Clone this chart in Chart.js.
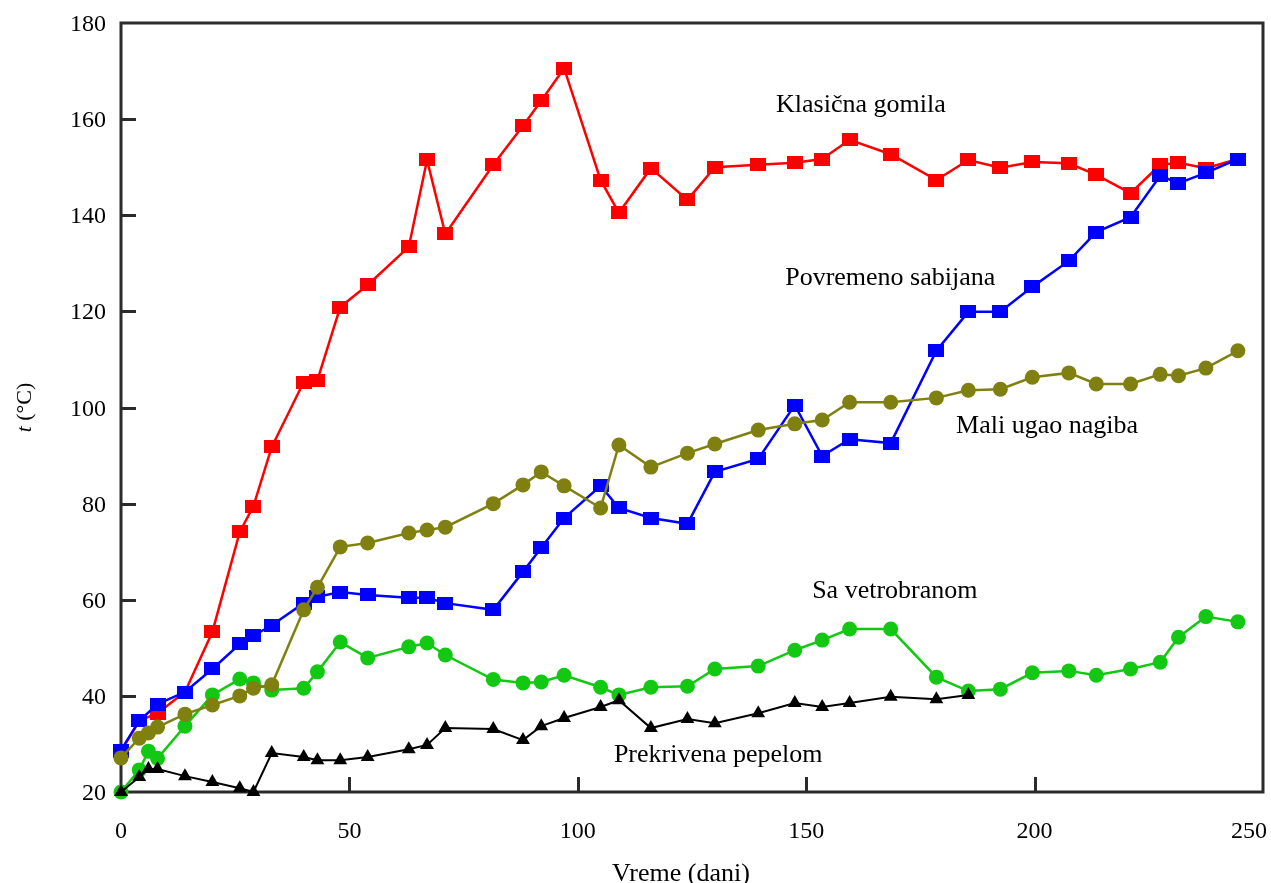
<!DOCTYPE html>
<html>
<head>
<meta charset="utf-8">
<script src="https://cdn.jsdelivr.net/npm/chart.js@4/dist/chart.umd.min.js"></script>
<style>
  html, body { margin: 0; padding: 0; background: #fff; }
  #wrap { width: 1271px; height: 883px; position: relative; }
</style>
</head>
<body>
<div id="wrap"><canvas id="chart" width="1271" height="883"></canvas></div>
<script>
// Sampling days (x axis, "Vreme (dani)")
const days = [0, 4, 6, 8, 14, 20, 26, 29, 33, 40, 43, 48, 54, 63, 67, 71, 81.5, 88, 92, 97,
              105, 109, 116, 124, 130, 139.5, 147.5, 153.5, 159.5, 168.5, 178.5, 185.5, 192.5,
              199.5, 207.5, 213.5, 221, 227.5, 231.5, 237.5, 244.5];

// Temperatures t (°C) per pile type; null = no measurement on that day
const klasicnaGomila = [28.5, 34.8, null, 36.4, 40.8, 53.3, 74.1, 79.5, 91.8, 105.3, 105.7, 120.9, 125.5, 133.4, 151.5, 136.1, 150.5, 158.6, 163.8, 170.6,
                        147.3, 140.5, 149.8, 143.2, 150.0, 150.5, 150.9, 151.7, 155.7, 152.7, 147.3, 151.5, 149.9,
                        151.1, 150.8, 148.4, 144.6, 150.5, 150.9, 149.8, 151.7];
const povremenoSabijana = [28.7, 34.8, null, 38.3, 40.8, 45.6, 50.8, 52.5, 54.7, 59.3, 60.6, 61.6, 61.0, 60.4, 60.4, 59.3, 57.9, 65.8, 70.8, 77.0,
                           83.7, 79.1, 77.0, 75.8, 86.6, 89.3, 100.5, 89.9, 93.4, 92.6, 111.8, 119.9, 119.9,
                           125.1, 130.5, 136.5, 139.6, 148.2, 146.7, 148.8, 151.7];
const maliUgaoNagiba = [27.1, 31.2, 32.3, 33.5, 36.2, 38.1, 40.0, 41.6, 42.3, 57.9, 62.6, 71.0, 71.8, 73.9, 74.5, 75.1, 80.0, 83.9, 86.6, 83.7,
                        79.1, 92.2, 87.6, 90.5, 92.4, 95.3, 96.6, 97.4, 101.1, 101.1, 102.0, 103.6, 103.8,
                        106.3, 107.2, 104.9, 104.9, 106.9, 106.6, 108.2, 111.8];
const saVetrobranom = [20.0, 24.6, 28.5, 27.0, 33.7, 40.2, 43.5, 42.7, 41.2, 41.6, 45.0, 51.2, 47.9, 50.2, 51.0, 48.5, 43.4, 42.7, 42.9, 44.3,
                       41.8, 40.2, 41.8, 42.0, 45.6, 46.2, 49.5, 51.6, 53.9, 53.9, 43.9, 41.0, 41.4,
                       44.8, 45.2, 44.3, 45.6, 47.0, 52.2, 56.5, 55.4];
const prekrivenaPepelom = [20.0, 23.1, 24.8, 24.8, 23.3, 22.1, 20.8, 20.0, 28.1, 27.3, 26.6, 26.6, 27.3, 28.9, 29.8, 33.3, 33.1, 30.8, 33.7, 35.4,
                           37.7, 39.1, 33.3, 35.2, 34.3, 36.4, 38.5, 37.7, 38.5, 39.8, 39.3, 40.2, null,
                           null, null, null, null, null, null, null, null];

const seriesNames = ['Klasična gomila', 'Povremeno sabijana', 'Mali ugao nagiba', 'Sa vetrobranom', 'Prekrivena pepelom'];

// Axis tick labels
const xTicks = [0, 50, 100, 150, 200, 250];
const yTicks = [20, 40, 60, 80, 100, 120, 140, 160, 180];
const xTitle = 'Vreme (dani)';

const SERIF = '"Liberation Serif", "Times New Roman", serif';

function toPoints(values) {
  const pts = [];
  values.forEach((v, i) => { if (v !== null) pts.push({ x: days[i], y: v }); });
  return pts;
}

// Flat rectangular marker (slightly wider than tall)
function rectMarker(color) {
  const c = document.createElement('canvas');
  c.width = 16; c.height = 13;
  const g = c.getContext('2d');
  g.fillStyle = color;
  g.fillRect(0, 0, 16, 13);
  return c;
}

const common = { showLine: true, clip: false, tension: 0, pointBorderWidth: 0, pointHoverRadius: 7 };

const datasets = [
  Object.assign({}, common, {
    label: seriesNames[0], data: toPoints(klasicnaGomila),
    borderColor: '#ff0000', backgroundColor: '#ff0000', borderWidth: 2.5,
    pointStyle: rectMarker('#ff0000'), order: 4
  }),
  Object.assign({}, common, {
    label: seriesNames[1], data: toPoints(povremenoSabijana),
    borderColor: '#0000ff', backgroundColor: '#0000ff', borderWidth: 2.5,
    pointStyle: rectMarker('#0000ff'), order: 3
  }),
  Object.assign({}, common, {
    label: seriesNames[2], data: toPoints(maliUgaoNagiba),
    borderColor: '#808010', backgroundColor: '#808010', borderWidth: 2.5,
    pointStyle: 'circle', pointRadius: 7.5, order: 1
  }),
  Object.assign({}, common, {
    label: seriesNames[3], data: toPoints(saVetrobranom),
    borderColor: '#12c812', backgroundColor: '#12c812', borderWidth: 2.5,
    pointStyle: 'circle', pointRadius: 7.5, order: 2
  }),
  Object.assign({}, common, {
    label: seriesNames[4], data: toPoints(prekrivenaPepelom),
    borderColor: '#000000', backgroundColor: '#000000', borderWidth: 2,
    pointStyle: 'triangle', pointRadius: 8, order: 0
  })
];

// Series captions placed next to their curves (left edge / baseline in data units)
const captions = [
  { text: seriesNames[0], x: 143.4, y: 161.5 },
  { text: seriesNames[1], x: 145.4, y: 125.5 },
  { text: seriesNames[2], x: 182.8, y: 94.7 },
  { text: seriesNames[3], x: 151.3, y: 60.4 },
  { text: seriesNames[4], x: 107.9, y: 26.2 }
];

// Draws the boxed frame, inward ticks, tick labels and axis titles
const framePlugin = {
  id: 'frame',
  beforeDatasetsDraw(chart) {
    const { ctx, chartArea: a, scales } = chart;
    ctx.save();
    ctx.strokeStyle = '#2b2b2b';
    ctx.lineWidth = 3;
    ctx.strokeRect(a.left, a.top, a.right - a.left, a.bottom - a.top);
    ctx.beginPath();
    yTicks.forEach(v => {
      const py = Math.round(scales.y.getPixelForValue(v)) + 0.5;
      if (v !== yTicks[0] && v !== yTicks[yTicks.length - 1]) {
        ctx.moveTo(a.left, py); ctx.lineTo(a.left + 15, py);
      }
    });
    xTicks.forEach(v => {
      const px = Math.round(scales.x.getPixelForValue(v)) + 0.5;
      if (v !== xTicks[0] && v !== xTicks[xTicks.length - 1]) {
        ctx.moveTo(px, a.bottom); ctx.lineTo(px, a.bottom - 15);
      }
    });
    ctx.stroke();
    ctx.restore();
  },
  afterDraw(chart) {
    const { ctx, chartArea: a, scales } = chart;
    ctx.save();
    ctx.fillStyle = '#000';
    ctx.font = '24px ' + SERIF;
    // y tick labels
    ctx.textAlign = 'right';
    ctx.textBaseline = 'alphabetic';
    yTicks.forEach(v => {
      ctx.fillText(String(v), a.left - 15, scales.y.getPixelForValue(v) + 8);
    });
    // x tick labels
    ctx.textAlign = 'center';
    xTicks.forEach(v => {
      const label = String(v);
      const w = ctx.measureText(label).width;
      let px = scales.x.getPixelForValue(v);
      px = Math.min(px, chart.width - 4 - w / 2);
      ctx.fillText(label, px, a.bottom + 46);
    });
    // x axis title
    ctx.font = '26px ' + SERIF;
    ctx.fillText(xTitle, 681, 881);
    // y axis title: italic t followed by (°C)
    ctx.translate(31, (a.top + a.bottom) / 2);
    ctx.rotate(-Math.PI / 2);
    ctx.textAlign = 'left';
    ctx.font = 'italic 22px ' + SERIF;
    const tW = ctx.measureText('t').width;
    ctx.font = '22px ' + SERIF;
    const restW = ctx.measureText(' (°C)').width;
    const start = -(tW + restW) / 2;
    ctx.font = 'italic 22px ' + SERIF;
    ctx.fillText('t', start, 0);
    ctx.font = '22px ' + SERIF;
    ctx.fillText(' (°C)', start + tW, 0);
    ctx.restore();

    // curve captions
    ctx.save();
    ctx.fillStyle = '#000';
    ctx.font = '26px ' + SERIF;
    ctx.textAlign = 'left';
    ctx.textBaseline = 'alphabetic';
    captions.forEach(c => {
      ctx.fillText(c.text, scales.x.getPixelForValue(c.x), scales.y.getPixelForValue(c.y));
    });
    ctx.restore();
  }
};

new Chart(document.getElementById('chart'), {
  type: 'scatter',
  data: { datasets },
  options: {
    responsive: false,
    animation: false,
    devicePixelRatio: 1,
    layout: { padding: { left: 121, top: 23, right: 5, bottom: 91 } },
    plugins: { legend: { display: false }, tooltip: { enabled: false } },
    scales: {
      x: { type: 'linear', min: 0, max: 250, display: false },
      y: { type: 'linear', min: 20, max: 180, display: false }
    }
  },
  plugins: [framePlugin]
});
</script>
</body>
</html>
